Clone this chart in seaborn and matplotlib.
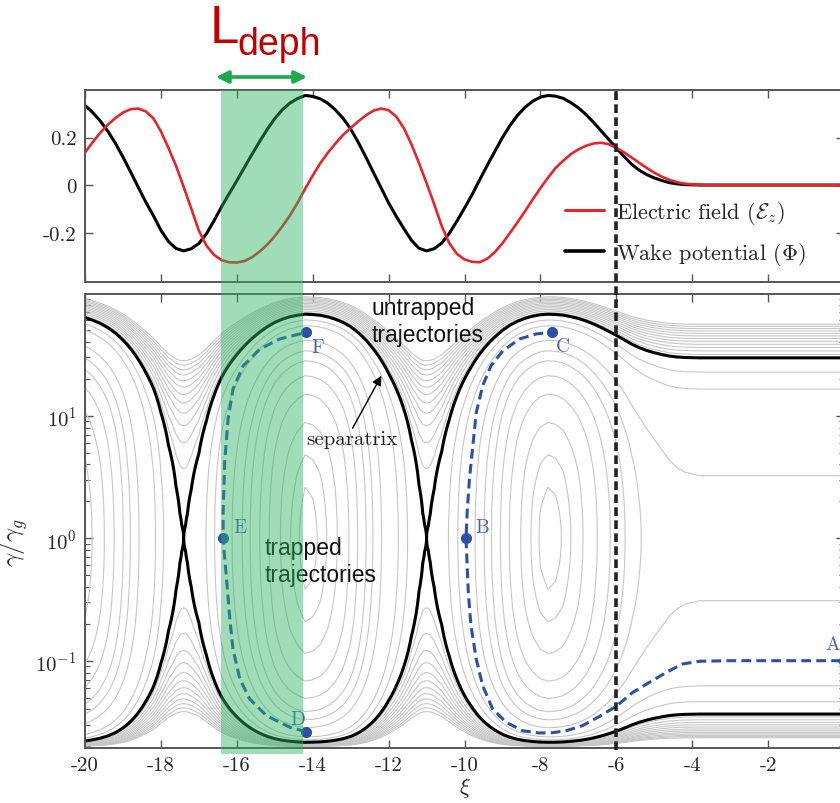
import numpy as np
import seaborn as sns
import matplotlib
matplotlib.use("Agg")
import matplotlib.pyplot as plt
from matplotlib import transforms
from matplotlib.patches import Rectangle
from matplotlib.lines import Line2D
from matplotlib.ticker import FuncFormatter, FixedLocator, LogLocator, NullFormatter

# --- wake profile (xi step 0.2) ---
xi = np.linspace(-20, 0, 101)
phi = [0.335, 0.306, 0.270, 0.227, 0.176, 0.118, 0.056, -0.008, -0.071, -0.128,
       -0.190, -0.238, -0.267, -0.277, -0.268, -0.246, -0.205, -0.150, -0.091, -0.036,
       0.018, 0.074, 0.129, 0.183, 0.234, 0.280, 0.317, 0.345, 0.364, 0.377,
       0.373, 0.363, 0.344, 0.316, 0.281, 0.236, 0.180, 0.118, 0.053, -0.011,
       -0.075, -0.131, -0.183, -0.232, -0.266, -0.277, -0.268, -0.244, -0.203, -0.152,
       -0.097, -0.040, 0.022, 0.083, 0.142, 0.200, 0.251, 0.294, 0.328, 0.353,
       0.370, 0.377, 0.374, 0.365, 0.347, 0.325, 0.297, 0.264, 0.228, 0.192,
       0.156, 0.121, 0.088, 0.063, 0.044, 0.030, 0.019, 0.010, 0.005, 0.002,
       0.001, 0, 0, 0, 0, 0, 0, 0, 0, 0,
       0, 0, 0, 0, 0, 0, 0, 0, 0, 0, 0]
efield = [0.137, 0.180, 0.220, 0.254, 0.282, 0.305, 0.319, 0.322, 0.310, 0.281,
          0.226, 0.156, 0.080, -0.008, -0.099, -0.192, -0.255, -0.294, -0.316, -0.325,
          -0.326, -0.320, -0.304, -0.280, -0.251, -0.215, -0.174, -0.128, -0.075, -0.016,
          0.040, 0.092, 0.136, 0.175, 0.211, 0.240, 0.268, 0.293, 0.313, 0.322,
          0.315, 0.288, 0.240, 0.172, 0.093, 0.008, -0.080, -0.173, -0.245, -0.290,
          -0.313, -0.323, -0.325, -0.310, -0.282, -0.245, -0.201, -0.156, -0.109, -0.060,
          -0.013, 0.031, 0.072, 0.102, 0.130, 0.150, 0.165, 0.175, 0.178, 0.172,
          0.156, 0.138, 0.116, 0.094, 0.072, 0.052, 0.035, 0.022, 0.012, 0.006,
          0.003, 0.001, 0, 0, 0, 0, 0, 0, 0, 0,
          0, 0, 0, 0, 0, 0, 0, 0, 0, 0, 0]
# a few extra potential readings close to the two troughs
trough_xi = [-17.5, -17.45, -17.35, -17.3, -11.1, -11.05, -10.95, -10.9]
trough_phi = [-0.2748, -0.2764, -0.2764, -0.2748, -0.2748, -0.2764, -0.2764, -0.2748]

gamma_g = 50.0   # floor of the lower panel sits at 1/gamma_g

# gray orbits, each read at one place in the lower panel:
# closed ones where they top the bucket centre
arch_xi = -7.8
arch_tops = [2.6, 4.8, 8.8, 15.0, 21.2, 28.1, 33.9]
# open ones on the flat part at the right edge (upper branch)
flat_xi = 0.0
flat_heights = [3.24, 16.5, 22.7]
# the ones outside the separatrix at their dip over the X-point
dip_xi = -17.4
dip_heights = [3.7, 6.0, 8.3, 10.5, 12.7, 14.9, 17.1, 19.3, 21.5, 23.7, 25.9, 28.1]

# dashed example trajectories
traj1_xi = [0.0, -3.0, -3.8, -4.26, -4.69, -5.13, -5.57, -6.0, -6.45, -6.89, -7.32, -7.7,
            -8.03, -8.47, -8.9, -9.26, -9.52, -9.69, -9.83, -9.9, -9.93, -9.96, -9.93,
            -9.87, -9.78, -9.69, -9.52, -9.3, -8.99, -8.55, -8.11, -7.69]
traj1_g = [0.1, 0.1, 0.099, 0.094, 0.080, 0.0665, 0.055, 0.0425, 0.035, 0.0295, 0.0268, 0.0258,
           0.0257, 0.0268, 0.0314, 0.0404, 0.0625, 0.103, 0.193, 0.36, 0.6, 1.0, 1.63,
           3.04, 5.7, 10.6, 17.6, 25.6, 33.9, 42.3, 46.5, 48.0]
traj2_xi = [-14.17, -14.6, -15.22, -15.66, -15.92, -16.1, -16.18, -16.27, -16.34, -16.36,
            -16.36, -16.32, -16.23, -16.1, -15.83, -15.39, -14.87, -14.34, -14.17]
traj2_g = [0.0263, 0.0286, 0.0356, 0.0487, 0.071, 0.124, 0.214, 0.465, 0.816, 1.0,
           1.63, 4.17, 9.4, 16.5, 25.6, 35.0, 42.3, 46.5, 48.0]

point_names = ["A", "B", "C", "D", "E", "F"]
point_xi = [0.0, -9.96, -7.69, -14.17, -16.36, -14.17]
point_g = [0.1, 1.0, 48.0, 0.0263, 1.0, 48.0]

deph_start, deph_end = -16.42, -14.26
xi_inj = -6.0

# --- style ---
sns.set_theme(style="ticks")
plt.rcParams.update({
    "font.family": ["cmr10"],
    "mathtext.fontset": "cm",
    "axes.unicode_minus": False,
    "axes.formatter.use_mathtext": True,
    "axes.edgecolor": "#555555",
    "axes.linewidth": 1.4,
})

fig = plt.figure(figsize=(8.4, 8.04), dpi=100)
ax1 = fig.add_axes([85 / 840, 1 - 283 / 804, 759 / 840, 192 / 804])
ax2 = fig.add_axes([85 / 840, 1 - 749 / 804, 759 / 840, 454 / 804])

# --- top panel ---
sns.lineplot(x=xi, y=phi, ax=ax1, color="black", linewidth=2.2)
sns.lineplot(x=xi, y=efield, ax=ax1, color="#e3262b", linewidth=1.9)
ax1.set_xlim(-20, 0)
ax1.set_ylim(-0.408, 0.40)
ax1.xaxis.set_major_locator(FixedLocator(np.arange(-20, 1, 2)))
ax1.yaxis.set_major_locator(FixedLocator([-0.2, 0, 0.2]))
ax1.xaxis.set_major_formatter(NullFormatter())
ax1.yaxis.set_major_formatter(FuncFormatter(lambda v, p: f"{v:g}"))
ax1.legend(handles=[Line2D([], [], color="#e3262b", lw=2.2), Line2D([], [], color="black", lw=2.6)],
           labels=[r"Electric field ($\mathcal{E}_z$)", r"Wake potential ($\Phi$)"],
           loc="center left", bbox_to_anchor=((565 - 85) / 759, (283 - 234) / 192),
           frameon=False, fontsize=16, handlelength=1.75, handletextpad=0.55,
           borderpad=0, borderaxespad=0, labelspacing=0.65)

# --- bottom panel: phase space H = h(gamma) - phi ---
beta_g = np.sqrt(1 - 1 / gamma_g**2)
phi_arr = np.array(phi)


def h_of(g):
    gam = g * gamma_g
    return gam - beta_g * np.sqrt(gam**2 - 1)


def phi_at(x):
    return phi_arr[np.argmin(np.abs(xi - x))]


xs = np.concatenate([xi, trough_xi])
ps = np.concatenate([phi_arr, trough_phi])
order = np.argsort(xs)
xs, ps = xs[order], ps[order]

s = np.linspace(0, np.arccosh(100 * gamma_g), 4000)
G = np.cosh(s) / gamma_g
Z = (np.cosh(s) - beta_g * np.sinh(s))[:, None] - ps[None, :]

levels = sorted([h_of(g) - phi_at(arch_xi) for g in arch_tops] +
                [h_of(g) - phi_at(flat_xi) for g in flat_heights] +
                [h_of(g) - phi_at(dip_xi) for g in dip_heights])
h_sep = 1 / gamma_g - phi_arr.min() + 1e-6

ax2.set_yscale("log")
ax2.contour(xs, G, Z, levels=levels, colors="#c6c6c6", linewidths=0.8,
            linestyles="solid", zorder=1)
ax2.contour(xs, G, Z, levels=[h_sep], colors="black", linewidths=2.2,
            linestyles="solid", zorder=2)

dash_col = "#2c50a6"
ax2.plot(traj1_xi, traj1_g, color=dash_col, lw=2.2, ls=(0, (3.2, 1.7)), zorder=3)
ax2.plot(traj2_xi, traj2_g, color=dash_col, lw=2.2, ls=(0, (3.2, 1.7)), zorder=3)
ax2.plot(point_xi, point_g, "o", color=dash_col, ms=7, zorder=4)
label_off = {"A": (-8, 12), "B": (12, 8), "C": (8, -10), "D": (-6, 9), "E": (12, 8), "F": (8, -11)}
for name, x, y in zip(point_names, point_xi, point_g):
    ax2.annotate(name, (x, y), xytext=label_off[name], textcoords="offset points",
                 ha="center", va="center", fontsize=14, color="#4a63ad")

ax2.set_xlim(-20, 0)
ax2.set_ylim(0.01938, 98.5)
ax2.xaxis.set_major_locator(FixedLocator(np.arange(-20, 1, 2)))
ax2.xaxis.set_major_formatter(FuncFormatter(lambda v, p: f"{v:g}"))
ax2.yaxis.set_major_locator(LogLocator(base=10))
ax2.yaxis.set_minor_locator(LogLocator(base=10, subs=np.arange(2, 10)))
ax2.yaxis.set_minor_formatter(NullFormatter())
ax2.set_xlabel(r"$\xi$", fontsize=16)
ax2.xaxis.set_label_coords(0.5, -0.06)
ax2.set_ylabel(r"$\gamma/\gamma_g$", fontsize=18)
ax2.yaxis.set_label_coords(-0.072, 0.455)

for ax in (ax1, ax2):
    ax.tick_params(which="both", direction="in", top=True, right=True, labelsize=15,
                   color="#555555", pad=6)
    ax.tick_params(which="major", length=6, width=1.0)
    ax.tick_params(which="minor", length=3.5, width=0.8)

# annotations
sans = "Liberation Sans"
ax2.text(-12.46, 67.6, "untrapped", fontsize=16.5, family=sans, color="#111111", va="baseline")
ax2.text(-12.46, 40.9, "trajectories", fontsize=16.5, family=sans, color="#111111", va="baseline")
ax2.text(-15.26, 0.740, "trapped", fontsize=16.5, family=sans, color="#111111", va="baseline")
ax2.text(-15.26, 0.448, "trajectories", fontsize=16.5, family=sans, color="#111111", va="baseline")
ax2.text(-12.98, 5.87, "separatrix", fontsize=15, ha="center", va="baseline", color="#222222")
ax2.annotate("", xy=(-12.19, 21.2), xytext=(-12.95, 7.9),
             arrowprops=dict(arrowstyle="-|>", color="black", lw=1.0, mutation_scale=14,
                             shrinkA=0, shrinkB=0))

# dephasing band, injection line, L_deph marker (figure level)
trans = transforms.blended_transform_factory(ax2.transData, fig.transFigure)
fig.add_artist(Rectangle((deph_start, 1 - 755 / 804), deph_end - deph_start, (755 - 91) / 804,
                         transform=trans, facecolor="#2db360", alpha=0.45, lw=0, zorder=5))
fig.add_artist(Line2D([xi_inj, xi_inj], [1 - 751 / 804, 1 - 91 / 804], transform=trans,
                      color="#222222", lw=2.6, ls=(0, (2.4, 1.2)), zorder=6))
ax2.annotate("", xy=(-14.15, 1 - 78 / 804), xytext=(-16.55, 1 - 78 / 804),
             xycoords=trans, textcoords=trans,
             arrowprops=dict(arrowstyle="<|-|>", color="#1caa4c", lw=2.6, mutation_scale=18,
                             shrinkA=0, shrinkB=0), annotation_clip=False)
fig.text(210 / 840, 1 - 43 / 804, "L", fontsize=38, family=sans, color="#c00000", va="baseline")
fig.text(237 / 840, 1 - 55 / 804, "deph", fontsize=27, family=sans, color="#c00000", va="baseline")

fig.savefig("out.png", dpi=100)
